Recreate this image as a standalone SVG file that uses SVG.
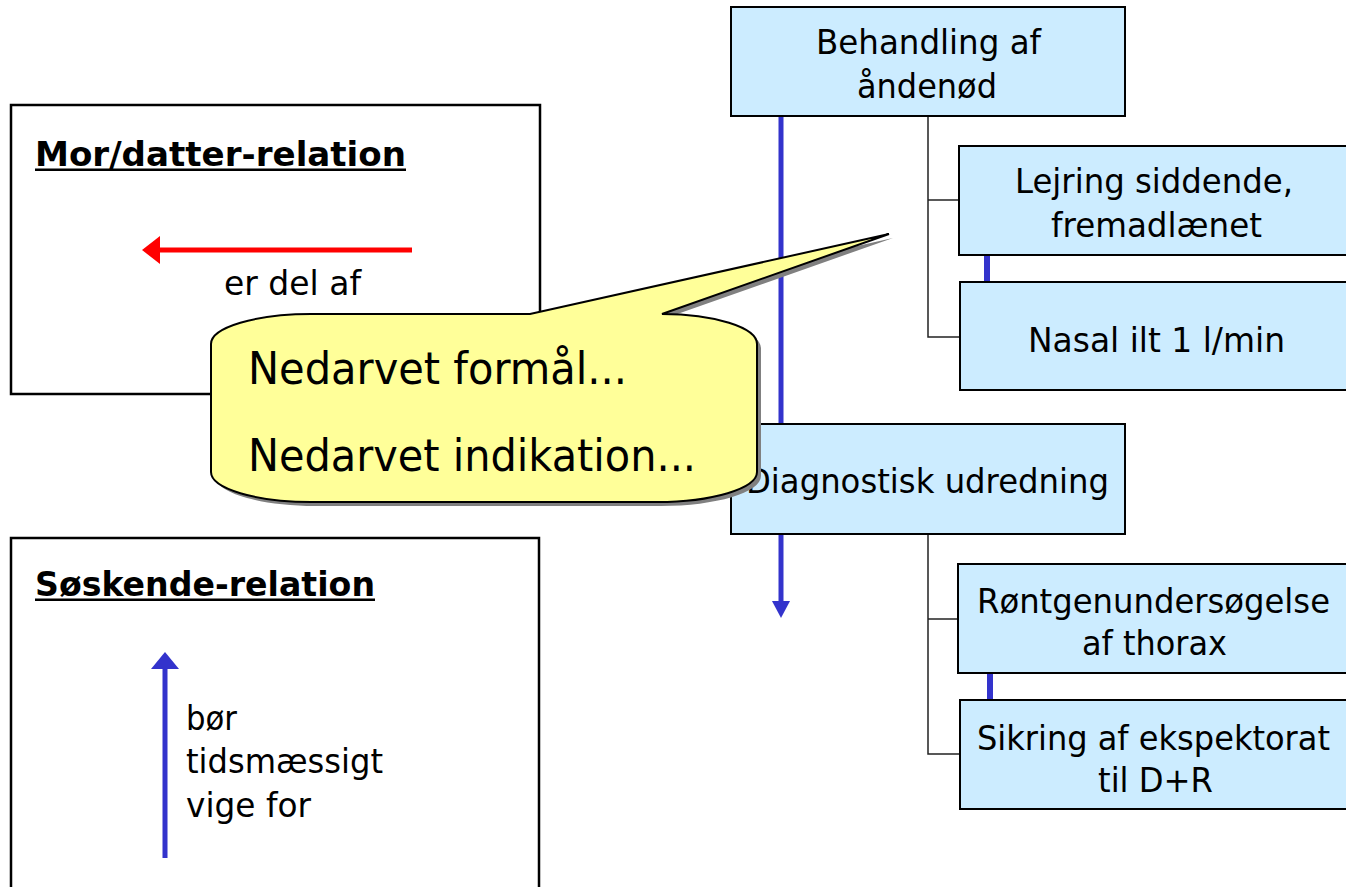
<svg xmlns="http://www.w3.org/2000/svg" width="1346" height="887" viewBox="0 0 1346 887">
<style>
.box{fill:#CCECFF;stroke:#000;stroke-width:2}
.frame{fill:#fff;stroke:#000;stroke-width:2.5}
.t{font-family:"DejaVu Sans",Verdana,sans-serif;font-size:34px;fill:#000}
.ts{font-size:33px}
.tb{font-family:"DejaVu Sans",Verdana,sans-serif;font-size:33px;font-weight:bold;fill:#000}
.tc{font-family:"DejaVu Sans",Verdana,sans-serif;font-size:44px;fill:#000}
.conn{fill:none;stroke:#222;stroke-width:1.5}
.seq{stroke:#3333CC;stroke-width:5;fill:none}
</style>
<rect width="1346" height="887" fill="#fff"/>

<g id="mor-datter">
<rect class="frame" x="11" y="105" width="529" height="289"/>
<text class="tb" x="35" y="166" textLength="371" lengthAdjust="spacingAndGlyphs">Mor/datter-relation</text>
<rect x="35" y="168.5" width="371" height="2.5" fill="#000"/>
<line x1="412" y1="250" x2="156" y2="250" stroke="#FF0000" stroke-width="5"/>
<polygon points="142,250 160,236 160,264" fill="#FF0000"/>
<text class="t" x="224" y="295" textLength="137" lengthAdjust="spacingAndGlyphs">er del af</text>
</g>

<g id="soskende">
<rect class="frame" x="11" y="538" width="528" height="360"/>
<text class="tb" x="35" y="596" textLength="340" lengthAdjust="spacingAndGlyphs">Søskende-relation</text>
<rect x="35" y="598.5" width="340" height="2.5" fill="#000"/>
<line x1="165" y1="858" x2="165" y2="666" stroke="#3333CC" stroke-width="5"/>
<polygon points="165,652 151,669 179,669" fill="#3333CC"/>
<text class="t" x="186" y="730" textLength="51" lengthAdjust="spacingAndGlyphs">bør</text>
<text class="t" x="186" y="773" textLength="197" lengthAdjust="spacingAndGlyphs">tidsmæssigt</text>
<text class="t" x="186" y="817" textLength="125" lengthAdjust="spacingAndGlyphs">vige for</text>
</g>

<g id="connectors">
<line class="seq" x1="781" y1="116" x2="781" y2="424"/>
<line class="seq" x1="781" y1="534" x2="781" y2="604"/>
<polygon points="781,618 772,601 790,601" fill="#3333CC"/>
<line x1="987" y1="255" x2="987" y2="282" stroke="#3333CC" stroke-width="6"/>
<line x1="990" y1="673" x2="990" y2="700" stroke="#3333CC" stroke-width="6"/>
<polyline class="conn" points="928,116 928,337 959,337"/>
<line class="conn" x1="928" y1="200" x2="959" y2="200"/>
<polyline class="conn" points="928,534 928,754 960,754"/>
<line class="conn" x1="928" y1="619" x2="958" y2="619"/>
</g>

<g id="behandling">
<rect class="box" x="731" y="7" width="394" height="109"/>
<text class="t" x="816" y="54" textLength="225" lengthAdjust="spacingAndGlyphs">Behandling af</text>
<text class="t" x="857" y="98" textLength="140" lengthAdjust="spacingAndGlyphs">åndenød</text>
</g>

<g id="lejring">
<rect class="box" x="959" y="146" width="388" height="109"/>
<text class="t" x="1015" y="193" textLength="278" lengthAdjust="spacingAndGlyphs">Lejring siddende,</text>
<text class="t" x="1051" y="237" textLength="211" lengthAdjust="spacingAndGlyphs">fremadlænet</text>
</g>

<g id="nasal">
<rect class="box" x="960" y="282" width="387" height="108"/>
<text class="t" x="1028" y="352" textLength="257" lengthAdjust="spacingAndGlyphs">Nasal ilt 1 l/min</text>
</g>

<g id="diagnostisk">
<rect class="box" x="731" y="424" width="394" height="110"/>
<text class="t" x="746" y="493" textLength="363" lengthAdjust="spacingAndGlyphs">Diagnostisk udredning</text>
</g>

<g id="rontgen">
<rect class="box" x="958" y="564" width="389" height="109"/>
<text class="t ts" x="977" y="613" textLength="353" lengthAdjust="spacingAndGlyphs">Røntgenundersøgelse</text>
<text class="t" x="1082" y="655" textLength="145" lengthAdjust="spacingAndGlyphs">af thorax</text>
</g>

<g id="sikring">
<rect class="box" x="960" y="700" width="387" height="109"/>
<text class="t ts" x="977" y="750" textLength="353" lengthAdjust="spacingAndGlyphs">Sikring af ekspektorat</text>
<text class="t" x="1098" y="792" textLength="115" lengthAdjust="spacingAndGlyphs">til D+R</text>
</g>

<g id="callout">
<path transform="translate(4,4)" fill="#808080" d="M311,314 L530,314 L889,234 L662,314 C714,314 757,327.5 757,344 L757,472 C757,488.5 712,502 657,502 L311,502 C256,502 211,488.5 211,472 L211,344 C211,327.5 256,314 311,314 Z"/>
<path fill="#FFFF99" stroke="#000" stroke-width="2" stroke-linejoin="miter" d="M311,314 L530,314 L889,234 L662,314 C714,314 757,327.5 757,344 L757,472 C757,488.5 712,502 657,502 L311,502 C256,502 211,488.5 211,472 L211,344 C211,327.5 256,314 311,314 Z"/>
<text class="tc" x="248" y="384" textLength="379" lengthAdjust="spacingAndGlyphs">Nedarvet formål...</text>
<text class="tc" x="248" y="471" textLength="448" lengthAdjust="spacingAndGlyphs">Nedarvet indikation...</text>
</g>
</svg>
